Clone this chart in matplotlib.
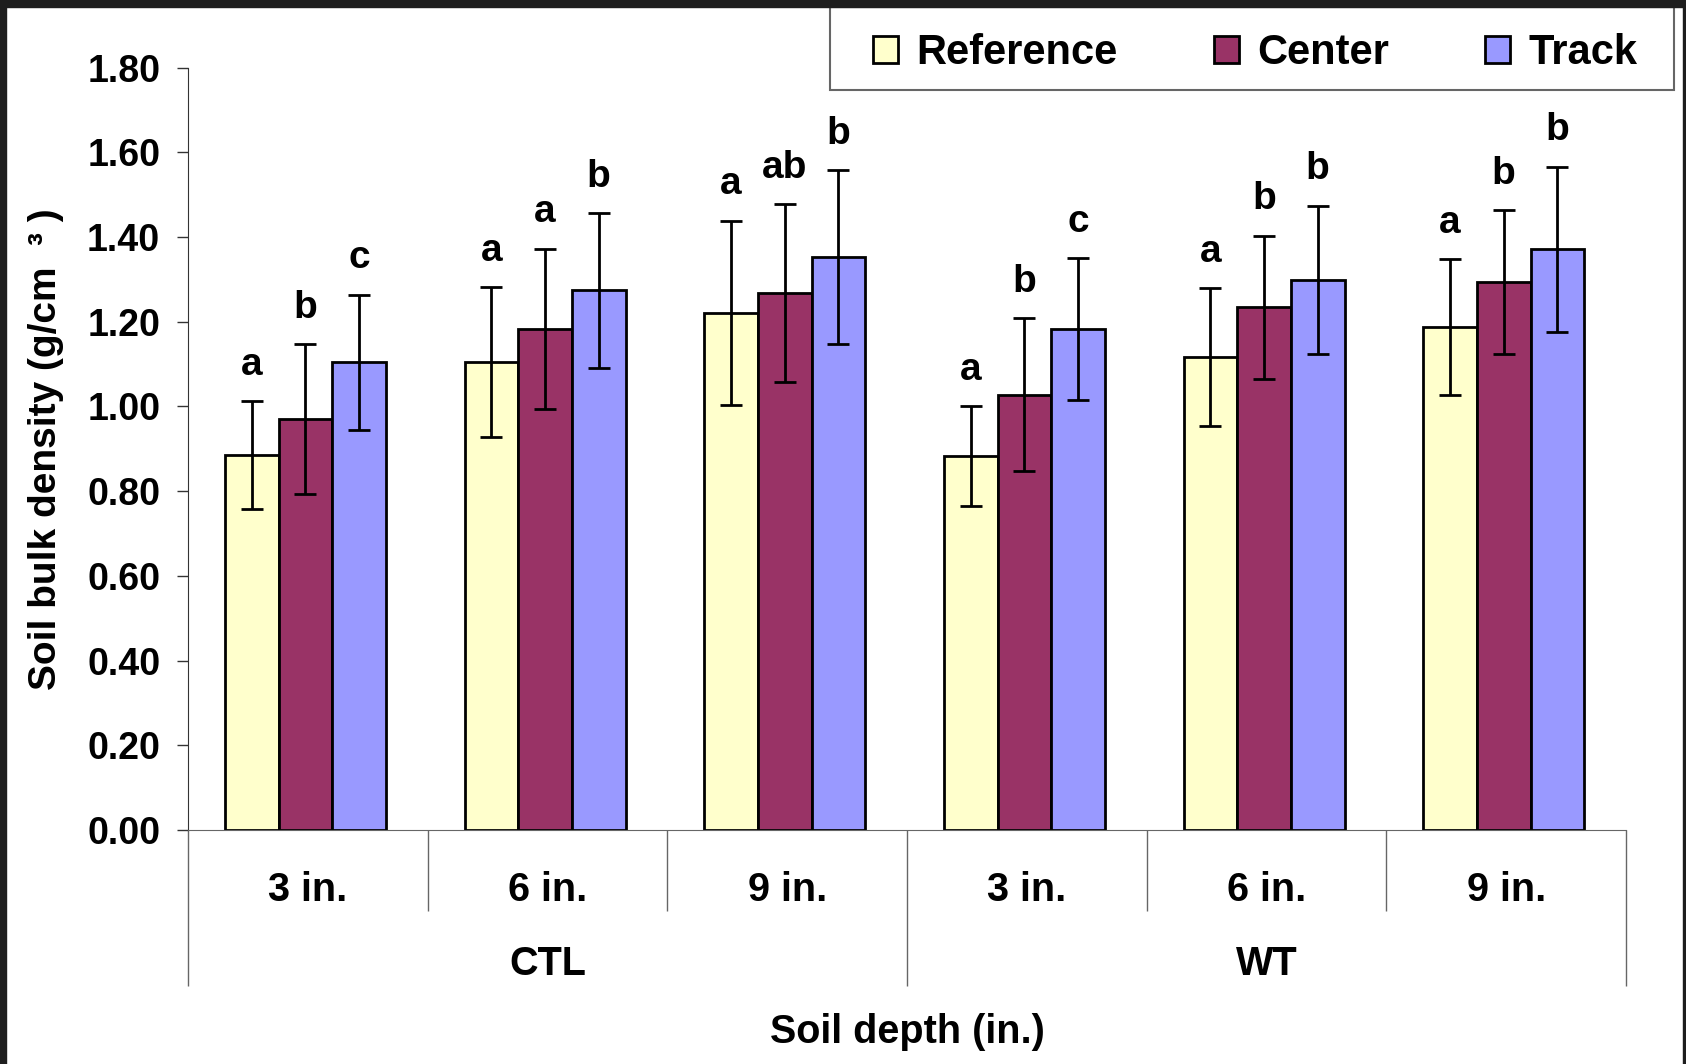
import matplotlib
matplotlib.use("Agg")
import matplotlib.pyplot as plt
from matplotlib.patches import Rectangle
from matplotlib.transforms import blended_transform_factory
import numpy as np

plt.rcParams["font.family"] = ["Liberation Sans", "DejaVu Sans"]
plt.rcParams["font.weight"] = "bold"

depths = ["3 in.", "6 in.", "9 in.", "3 in.", "6 in.", "9 in."]
groups = ["CTL", "WT"]
series = ["Reference", "Center", "Track"]
colors = ["#FFFFCC", "#993366", "#9999FF"]

reference = [0.885, 1.104, 1.221, 0.883, 1.117, 1.188]
center = [0.970, 1.183, 1.267, 1.028, 1.234, 1.294]
track = [1.104, 1.274, 1.353, 1.183, 1.299, 1.371]

reference_err = [0.127, 0.177, 0.218, 0.117, 0.162, 0.160]
center_err = [0.177, 0.190, 0.210, 0.180, 0.169, 0.170]
track_err = [0.160, 0.183, 0.205, 0.167, 0.175, 0.195]

reference_lab = ["a", "a", "a", "a", "a", "a"]
center_lab = ["b", "a", "ab", "b", "b", "b"]
track_lab = ["c", "b", "b", "c", "b", "b"]


def main():
    fig = plt.figure(figsize=(16.86, 10.64), dpi=100)
    ax = fig.add_axes([0.1115, 0.2199, 0.8529, 0.7165])

    values = [reference, center, track]
    errors = [reference_err, center_err, track_err]
    letters = [reference_lab, center_lab, track_lab]
    x = np.arange(len(depths)) + 0.49
    w = 0.224

    handles = []
    for k in range(3):
        xs = x + (k - 1) * w
        b = ax.bar(xs, values[k], w, color=colors[k], edgecolor="black", linewidth=2.0,
                   label=series[k], zorder=2)
        handles.append(b)
        ax.errorbar(xs, values[k], yerr=errors[k], fmt="none", ecolor="black",
                    elinewidth=2.0, capsize=8, capthick=2.0, zorder=3)
        for xi, v, e, t in zip(xs, values[k], errors[k], letters[k]):
            ax.annotate(t, (xi, v + e), xytext=(0, 19), textcoords="offset points",
                        ha="center", va="baseline", fontsize=28, fontweight="bold")

    ax.set_xlim(0, 6)
    ax.set_ylim(0, 1.8)
    ax.set_yticks(np.arange(0, 1.81, 0.2))
    ax.set_yticklabels(["%.2f" % v for v in np.arange(0, 1.81, 0.2)])
    ax.tick_params(axis="y", direction="out", length=8, width=1, labelsize=27, pad=12,
                   color="#333333")

    ax.set_xticks([0, 3, 6])
    ax.set_xticks([1, 2, 4, 5], minor=True)
    ax.set_xticklabels([])
    ax.tick_params(axis="x", which="major", direction="out", length=112, width=1, color="#666666")
    ax.tick_params(axis="x", which="minor", direction="out", length=58, width=1, color="#666666")

    for s in ["top", "right"]:
        ax.spines[s].set_visible(False)
    ax.spines["left"].set_color("#333333")
    ax.spines["bottom"].set_color("#666666")

    tr = blended_transform_factory(ax.transData, fig.transFigure)
    for i, d in enumerate(depths):
        ax.text(i + 0.5, 0.164, d, transform=tr, ha="center", va="center", fontsize=28.5)
    for j, g in enumerate(groups):
        ax.text(j * 3 + 1.5, 0.094, g, transform=tr, ha="center", va="center", fontsize=28.5)
    ax.text(3, 0.030, "Soil depth (in.)", transform=tr, ha="center", va="center", fontsize=28.5)

    fig.text(0.027, 0.578, "Soil bulk density (g/cm  \u00b3 )", rotation=90,
             ha="center", va="center", fontsize=28)

    # legend box
    fig.patches.append(Rectangle((0.4923, 0.9154), 0.5006, 0.078, transform=fig.transFigure,
                                 facecolor="white", edgecolor="#666666", linewidth=1.5, zorder=5))
    fig.legend(handles=handles, labels=series, ncol=3, frameon=False, loc="center",
               bbox_to_anchor=(0.7445, 0.950), fontsize=30, handlelength=0.6,
               handleheight=0.65, handletextpad=0.45, columnspacing=2.3)

    # dark frame
    dark = "#1e1e1e"
    fig.patches.append(Rectangle((0, 1 - 7 / 1064), 1, 7 / 1064, transform=fig.transFigure,
                                 color=dark, zorder=10))
    fig.patches.append(Rectangle((0, 0), 6 / 1686, 1, transform=fig.transFigure,
                                 color=dark, zorder=10))
    fig.patches.append(Rectangle((1 - 3 / 1686, 0), 3 / 1686, 1, transform=fig.transFigure,
                                 color=dark, zorder=10))

    fig.savefig("out.png", dpi=100)


if __name__ == "__main__":
    main()
